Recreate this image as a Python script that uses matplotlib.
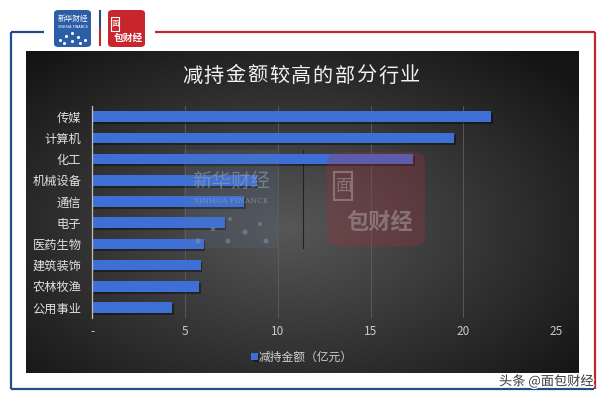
import numpy as np
import matplotlib
matplotlib.use("Agg")
import matplotlib.pyplot as plt
from matplotlib.patches import FancyBboxPatch, Rectangle
from matplotlib.lines import Line2D
import matplotlib.patheffects as pe

plt.rcParams['font.family'] = ['Noto Sans CJK SC', 'DejaVu Sans']

categories = ["传媒", "计算机", "化工", "机械设备", "通信", "电子", "医药生物", "建筑装饰", "农林牧渔", "公用事业"]
values = [21.5, 19.5, 17.3, 8.86, 8.17, 7.13, 6.0, 5.83, 5.77, 4.31]
xticks = [0, 5, 10, 15, 20, 25]
xtick_labels = ["-", "5", "10", "15", "20", "25"]
title = "减持金额较高的部分行业"
series_name = "减持金额（亿元）"

W, H = 606, 400
fig = plt.figure(figsize=(W / 100, H / 100), dpi=100)
fig.patch.set_facecolor("white")

def fx(x):
    return x / W

def fy(y):
    return 1 - y / H

# --- dark gradient panel ---
pl, pr, pt, pb = 26, 579, 51, 373
bg = fig.add_axes([fx(pl), fy(pb), fx(pr - pl), (pb - pt) / H], zorder=0)
bg.set_axis_off()
nx, ny = 400, 240
xx, yy = np.meshgrid(np.linspace(-1, 1, nx), np.linspace(-1, 1, ny))
cx, cy = -0.05, 0.1
r = np.sqrt(((xx - cx) / 1.05) ** 2 + ((yy - cy) / 1.1) ** 2)
v = 0.34 - 0.20 * np.clip(r, 0, 1.3)
img = np.dstack([v, v, v])
bg.imshow(np.clip(img, 0, 1), aspect="auto", extent=[0, 1, 0, 1], interpolation="bilinear")
bg.set_xlim(0, 1)
bg.set_ylim(0, 1)

def px2bg(x, y):
    return ((x - pl) / (pr - pl), 1 - (y - pt) / (pb - pt))

a0, b0 = px2bg(303, 248)
a1, b1 = px2bg(303, 150)
bg.plot([a0, a1], [b0, b1], color="#222222", lw=0.8)

# --- main chart axes ---
al, ar, at, ab = 92.5, 556, 106, 318
ax = fig.add_axes([fx(al), fy(ab), fx(ar - al), (ab - at) / H], zorder=1)
ax.patch.set_alpha(0)
y = np.arange(len(categories))
bars = ax.barh(y, values, height=0.5, color="#3e6fd6", zorder=3, label=series_name)
for b in bars:
    b.set_path_effects([pe.SimplePatchShadow(offset=(1.2, -1.5), shadow_rgbFace="black", alpha=0.4), pe.Normal()])
ax.set_ylim(len(categories) - 0.5, -0.5)
ax.set_xlim(0, 25)
ax.set_yticks(y)
ax.set_yticklabels(categories, fontsize=8.8, color="#e0e0e0")
ax.set_xticks(xticks)
ax.set_xticklabels(xtick_labels, fontsize=8.5, color="#c8c8c8")
ax.tick_params(axis="both", length=0)
ax.tick_params(axis="y", pad=8)
ax.tick_params(axis="x", pad=5)
ax.grid(axis="x", color="#5e5e5e", lw=0.6, zorder=0)
for s in ["top", "right", "bottom"]:
    ax.spines[s].set_visible(False)
ax.spines["left"].set_color("#bfbfbf")
ax.spines["left"].set_linewidth(0.9)
ax.spines["left"].set_zorder(4)

# title with letter spacing
step = 21.8
start = 301 - step * (len(title) - 1) / 2
for i, ch in enumerate(title):
    fig.text(fx(start + i * step), fy(76), ch, fontsize=14.5, color="#f2f2f2", ha="center", va="center")

leg = ax.legend(loc="center", bbox_to_anchor=(fx(302), fy(357)), bbox_transform=fig.transFigure,
                frameon=False, fontsize=8.5, handlelength=0.55, handleheight=0.55, handletextpad=0.1)
for t in leg.get_texts():
    t.set_color("#d0d0d0")

# --- watermark overlay (above bars) ---
ov = fig.add_axes([fx(pl), fy(pb), fx(pr - pl), (pb - pt) / H], zorder=2)
ov.set_axis_off()
ov.patch.set_alpha(0)
ov.set_xlim(0, 1)
ov.set_ylim(0, 1)

x0, y0 = px2bg(184, 248)
x1, y1 = px2bg(278, 150)
ov.add_patch(Rectangle((x0, y0), x1 - x0, y1 - y0, facecolor="#5a7aa8", alpha=0.16, edgecolor="none"))
tx, ty = px2bg(231, 181)
ov.text(tx, ty, "新华财经", color="#9aa4b4", fontsize=14, style="italic", ha="center", va="center", alpha=0.55)
tx, ty = px2bg(231, 201)
ov.text(tx, ty, "XINHUA FINANCE", color="#9aa4b4", fontsize=5.5, family="DejaVu Serif", ha="center", va="center", alpha=0.6)
for (dx, dy, s) in [(198, 241, 14), (213, 229, 10), (230, 219, 8), (245, 232, 14), (260, 224, 8), (266, 241, 12), (228, 241, 12)]:
    a, b = px2bg(dx, dy)
    ov.scatter([a], [b], s=s, color="#8a9ab0", alpha=0.5, edgecolors="none")

x0, y0 = px2bg(327, 247)
x1, y1 = px2bg(425, 152)
ov.add_patch(FancyBboxPatch((x0, y0), x1 - x0, y1 - y0, boxstyle="round,pad=0,rounding_size=0.03",
                            facecolor="#a8303a", alpha=0.28, edgecolor="none"))
ov.add_patch(Rectangle(px2bg(334, 200), (352 - 334) / (pr - pl), (200 - 172) / (pb - pt), facecolor="none",
                       edgecolor="#9a8a8a", lw=1.5, alpha=0.7))
tx, ty = px2bg(343, 186)
ov.text(tx, ty, "面", color="#9a8a8a", fontsize=12, ha="center", va="center", alpha=0.7)
tx, ty = px2bg(380, 222)
ov.text(tx, ty, "包财经", color="#9a8a8a", fontsize=16, ha="center", va="center", alpha=0.7, weight="bold")

# --- frame lines ---
blue = "#1f4e8f"
red = "#c0272d"
def line(xs, ys, c, lw=1.6):
    fig.add_artist(Line2D([fx(v) for v in xs], [fy(v) for v in ys], color=c, lw=lw, solid_capstyle="butt"))

line([11, 44], [32, 32], blue)
line([11, 11], [32, 389], blue)
line([11, 594], [389, 389], blue)
line([155, 595], [32, 32], red)
line([595, 595], [32, 389], red)

# --- logos ---
fig.add_artist(FancyBboxPatch((fx(54), fy(47)), fx(37), 37 / H, boxstyle="round,pad=0,rounding_size=0.008",
                              transform=fig.transFigure, facecolor="#2c5ea8", edgecolor="none"))
fig.text(fx(72.5), fy(19), "新华财经", fontsize=5.5, color="white", style="italic", ha="center", va="center")
fig.text(fx(72.5), fy(27), "XINHUA FINANCE", fontsize=2.5, color="white", ha="center", va="center", family="DejaVu Sans")
for (dx, dy) in [(60, 40), (66, 36), (72, 33), (78, 37), (85, 40), (72, 41), (64, 43), (80, 43)]:
    fig.add_artist(Line2D([fx(dx)], [fy(dy)], marker="o", ms=1.2, color="white", lw=0))
line([100, 100], [10, 28], blue, lw=1.5)
line([100, 100], [28, 46], red, lw=1.5)
fig.add_artist(FancyBboxPatch((fx(108), fy(47)), fx(37), 37 / H, boxstyle="round,pad=0,rounding_size=0.008",
                              transform=fig.transFigure, facecolor="#c8262c", edgecolor="none"))
fig.add_artist(Rectangle((fx(111), fy(31)), fx(8), 14 / H, transform=fig.transFigure, facecolor="none",
                         edgecolor="white", lw=0.8))
fig.text(fx(115), fy(24), "面", fontsize=5.5, color="white", ha="center", va="center")
fig.text(fx(128), fy(38), "包财经", fontsize=7, color="white", ha="center", va="center", weight="bold")

fig.text(fx(594), fy(381), "头条 @面包财经", fontsize=9.5, color="#3a3a3a", ha="right", va="center",
         path_effects=[pe.withStroke(linewidth=2, foreground="white")])

fig.savefig("out.png", dpi=100, facecolor="white")
